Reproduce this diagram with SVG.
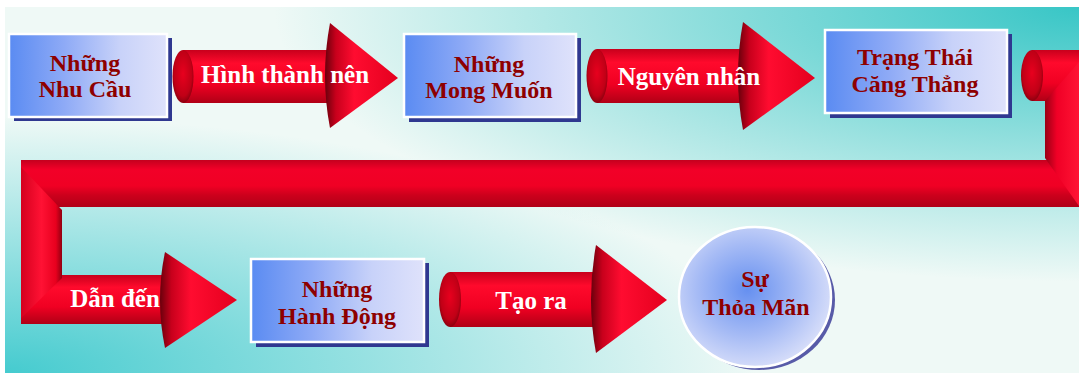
<svg xmlns="http://www.w3.org/2000/svg" width="1079" height="376" viewBox="0 0 1079 376">
<defs>
<style>
.t{font-family:"Liberation Serif","Times New Roman",serif;font-weight:bold;font-size:24px;text-anchor:middle}
.nt{fill:#8e0000}
.at{fill:#ffffff;font-size:25px}
.box{fill:url(#boxG);stroke:#ffffff;stroke-width:2.5}
.shadow{fill:#2f3890}
.shaft{fill:url(#shaftG)}
.cap{fill:url(#capG)}
.head{fill:url(#headG)}
</style>
<radialGradient id="bgTR" cx="1" cy="0" r="0.75">
<stop offset="0" stop-color="#38c6c6"/>
<stop offset="1" stop-color="#38c6c6" stop-opacity="0"/>
</radialGradient>
<radialGradient id="bgBL" cx="0" cy="1" r="0.7">
<stop offset="0" stop-color="#45cbcf"/>
<stop offset="1" stop-color="#45cbcf" stop-opacity="0"/>
</radialGradient>
<linearGradient id="boxG" x1="0" y1="0" x2="1" y2="0">
<stop offset="0" stop-color="#5a8bf2"/>
<stop offset="0.35" stop-color="#8eaaf6"/>
<stop offset="0.7" stop-color="#c8d2f9"/>
<stop offset="1" stop-color="#dfe2fb"/>
</linearGradient>
<radialGradient id="circG" cx="0.45" cy="0.45" r="0.6">
<stop offset="0" stop-color="#6690f0"/>
<stop offset="0.55" stop-color="#a6bbf5"/>
<stop offset="1" stop-color="#dde2fa"/>
</radialGradient>
<linearGradient id="shaftG" x1="0" y1="0" x2="0" y2="1">
<stop offset="0" stop-color="#c8001c"/>
<stop offset="0.25" stop-color="#ff0a2c"/>
<stop offset="0.65" stop-color="#f00022"/>
<stop offset="1" stop-color="#b00016"/>
</linearGradient>
<linearGradient id="bandG" x1="0" y1="0" x2="0" y2="1">
<stop offset="0" stop-color="#c4001e"/>
<stop offset="0.2" stop-color="#f20028"/>
<stop offset="0.55" stop-color="#f00024"/>
<stop offset="0.75" stop-color="#cc001c"/>
<stop offset="1" stop-color="#b00018"/>
</linearGradient>
<radialGradient id="capG" cx="0.5" cy="0.45" r="0.6">
<stop offset="0" stop-color="#e8001e"/>
<stop offset="0.7" stop-color="#c00016"/>
<stop offset="1" stop-color="#7a000c"/>
</radialGradient>
<linearGradient id="headG" x1="0" y1="0" x2="1" y2="0">
<stop offset="0" stop-color="#6a000c"/>
<stop offset="0.15" stop-color="#c8001c"/>
<stop offset="0.4" stop-color="#ff0c30"/>
<stop offset="1" stop-color="#e4001e"/>
</linearGradient>
<linearGradient id="vertR" x1="0" y1="0" x2="1" y2="0">
<stop offset="0" stop-color="#9a0014"/>
<stop offset="0.35" stop-color="#f00026"/>
<stop offset="1" stop-color="#ff1434"/>
</linearGradient>
<linearGradient id="vertL" x1="0" y1="0" x2="1" y2="0">
<stop offset="0" stop-color="#d4001e"/>
<stop offset="0.5" stop-color="#ff1234"/>
<stop offset="0.85" stop-color="#e8001e"/>
<stop offset="1" stop-color="#900010"/>
</linearGradient>
</defs>

<rect x="0" y="0" width="1079" height="376" fill="#ffffff"/>
<rect x="5" y="7" width="1074" height="366" fill="#eff9f6"/>
<rect x="5" y="7" width="1074" height="366" fill="url(#bgTR)"/>
<rect x="5" y="7" width="1074" height="366" fill="url(#bgBL)"/>

<g id="connectors">
<g id="arrow-hinh-thanh-nen">
<rect class="shaft" x="183" y="50" width="147" height="53"/>
<ellipse class="cap" cx="183" cy="76.5" rx="10.5" ry="26.5"/>
<path class="head" d="M330,23 Q320,76 330,128 L398,78 Z"/>
<text class="t at" x="285" y="83">Hình thành nên</text>
</g>
<g id="arrow-nguyen-nhan">
<rect class="shaft" x="597" y="49" width="147" height="54"/>
<ellipse class="cap" cx="597" cy="76" rx="10.5" ry="27"/>
<path class="head" d="M743,22 Q733,76 743,130 L815,78 Z"/>
<text class="t at" x="689" y="85">Nguyên nhân</text>
</g>
<g id="arrow-dan-den">
<rect class="shaft" x="1032" y="50" width="47" height="51"/>
<ellipse class="cap" cx="1032" cy="75.5" rx="11" ry="25.5"/>
<rect x="21" y="160" width="1058" height="47" fill="url(#bandG)"/>
<polygon points="1045,101 1079,62 1079,206 1045,158" fill="url(#vertR)"/>
<rect class="shaft" x="21" y="275" width="146" height="49"/>
<polygon points="21,167 62,210 62,278 21,318" fill="url(#vertL)"/>
<path class="head" d="M165,252 Q155,300 165,348 L237,300 Z"/>
<text class="t at" x="115" y="307">Dẫn đến</text>
</g>
<g id="arrow-tao-ra">
<rect class="shaft" x="450" y="272" width="147" height="55"/>
<ellipse class="cap" cx="450" cy="299.5" rx="11" ry="27.5"/>
<path class="head" d="M596,245 Q586,300 596,353 L667,300 Z"/>
<text class="t at" x="531" y="309">Tạo ra</text>
</g>
</g>

<g id="node-nhu-cau">
<rect class="shadow" x="14" y="38" width="158" height="83"/>
<rect class="box" x="9" y="34" width="158" height="83"/>
<text class="t nt" x="85" y="71">Những</text>
<text class="t nt" x="85" y="97">Nhu Cầu</text>
</g>
<g id="node-mong-muon">
<rect class="shadow" x="409" y="38" width="172" height="84"/>
<rect class="box" x="404" y="34" width="172" height="83"/>
<text class="t nt" x="489" y="72">Những</text>
<text class="t nt" x="489" y="98">Mong Muốn</text>
</g>
<g id="node-cang-thang">
<rect class="shadow" x="830" y="34" width="182" height="84"/>
<rect class="box" x="825" y="30" width="182" height="83"/>
<text class="t nt" x="915" y="65">Trạng Thái</text>
<text class="t nt" x="915" y="92">Căng Thẳng</text>
</g>
<g id="node-hanh-dong">
<rect class="shadow" x="256" y="263" width="173" height="84"/>
<rect class="box" x="251" y="259" width="173" height="83"/>
<text class="t nt" x="337" y="297">Những</text>
<text class="t nt" x="337" y="324">Hành Động</text>
</g>
<g id="node-thoa-man">
<ellipse cx="759" cy="300" rx="76" ry="70" fill="#3d3f9a" opacity="0.85"/>
<ellipse cx="755" cy="297" rx="76" ry="70" fill="url(#circG)" stroke="#ffffff" stroke-width="2.5"/>
<text class="t nt" x="755" y="287">Sự</text>
<text class="t nt" x="756" y="315">Thỏa Mãn</text>
</g>
</svg>
